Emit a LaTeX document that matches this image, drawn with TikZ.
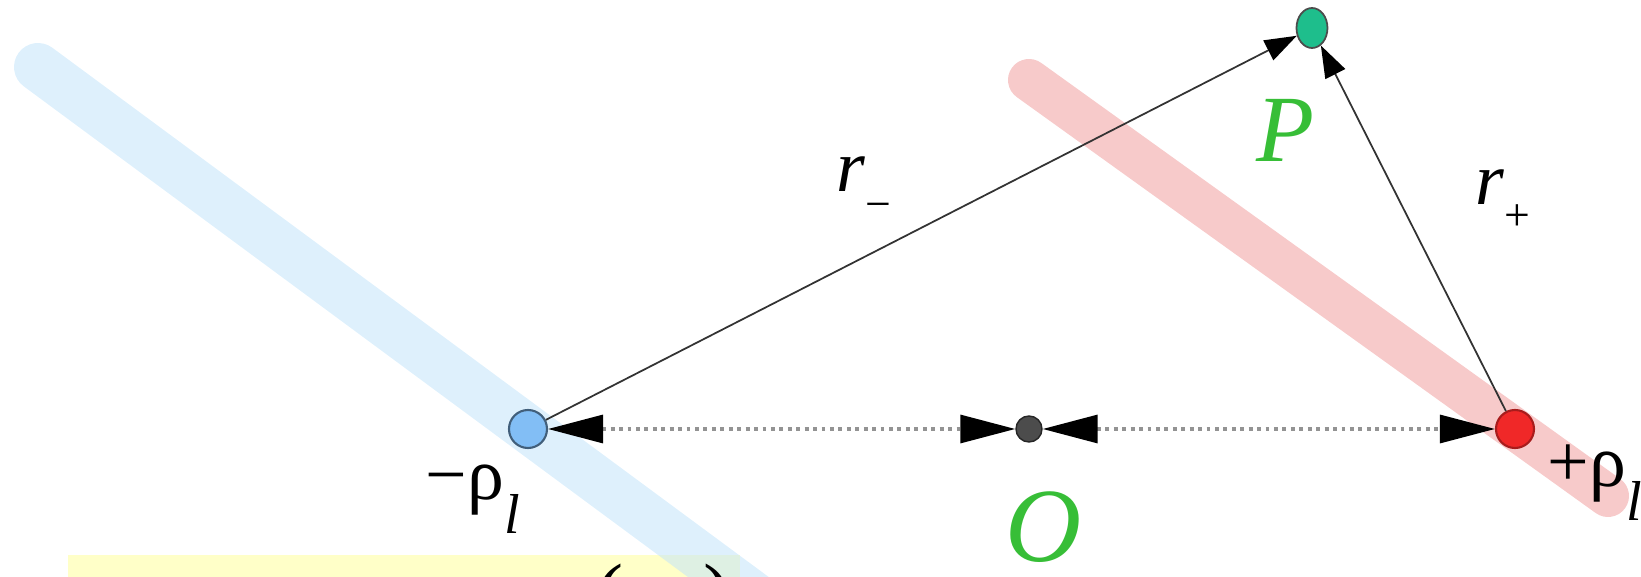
\documentclass[tikz,border=0pt]{standalone}
\usepackage{fontspec}
\setmainfont{Liberation Serif}
\usepackage{tikz}
\usetikzlibrary{positioning, arrows.meta, shapes.geometric}

\definecolor{bandblue}{RGB}{195,228,250}
\definecolor{bandred}{RGB}{247,202,202}
\definecolor{boxyellow}{RGB}{255,255,200}
\definecolor{labelgreen}{RGB}{55,190,55}
\definecolor{dotblue}{RGB}{130,190,245}
\definecolor{dotred}{RGB}{240,40,40}
\definecolor{dotteal}{RGB}{30,190,140}

\begin{document}
\begin{tikzpicture}[
    charge/.style={
        circle,
        minimum size=3.8mm,
        inner sep=0pt,
        line width=0.6pt,
    },
    band/.style={
        line width=4.8mm,
        line cap=round,
    },
    sep line/.style={
        draw=gray!85,
        line width=0.9pt,
        dash pattern=on 1.1pt off 1.3pt,
        {Triangle[length=5.5mm, width=2.8mm, black]}-{Triangle[length=5.5mm, width=2.8mm, black]},
    },
    ray/.style={
        draw=black!80,
        line width=0.5pt,
        -{Triangle[length=3.2mm, width=2.2mm, black]},
    },
    sym/.style={
        font=\fontsize{21}{25}\selectfont,
        inner sep=0pt,
        anchor=base west,
    },
    point label/.style={
        text=labelgreen,
        inner sep=0pt,
        anchor=base west,
    },
]

\useasboundingbox (0,0) rectangle (16.41,5.77);

% --- Yellow box (cut off at the bottom) ---
\fill[boxyellow] (0.68,-0.5) rectangle (7.40,0.22);

% --- Line charges seen edge-on ---
\draw[band, draw=bandblue, opacity=0.55] (0.38,5.10) -- (7.96,-0.5);
\draw[band, line width=4.2mm, draw=bandred] (10.29,4.97) -- (16.08,0.81);

\node[anchor=north west, inner sep=0pt, font=\fontsize{24}{26}\selectfont]
    (box-txt) at (5.95,0.14) {(\hspace{0.8cm})};

% --- Charges, origin and field point ---
\node[charge, fill=dotblue, draw=dotblue!50!black] (neg) at (5.28,1.48) {};
\node[charge, fill=dotred, draw=dotred!70!black] (pos) at (15.15,1.48) {};
\node[circle, minimum size=2.6mm, inner sep=0pt, fill=black!70, draw=black!85] (orig) at (10.29,1.48) {};
\node[ellipse, minimum width=3.1mm, minimum height=4mm, inner sep=0pt,
    fill=dotteal, draw=black!70, line width=0.5pt] (pt) at (13.12,5.49) {};

% --- Distances ---
\draw[sep line] (neg) -- (orig);
\draw[sep line] (orig) -- (pos);
\draw[ray] (neg) -- (pt);
\draw[ray] (pos) -- (pt);

% --- Labels ---
\node[sym] (rm) at (8.36,3.85)
    {\textit{r}\raisebox{-7.7pt}{\fontsize{13}{15}\selectfont −}};
\node[sym] (rp) at (14.75,3.72)
    {\textit{r}\raisebox{-7.2pt}{\fontsize{13}{15}\selectfont +}};

\node[sym] (neg-lbl) at ([shift={(-1.03,-0.71)}]neg.center)
    {−ρ\raisebox{-9.5pt}{\fontsize{16}{18}\selectfont\textit{l}}};
\node[sym] (pos-lbl) at ([shift={(0.32,-0.58)}]pos.center)
    {+ρ\raisebox{-9.5pt}{\fontsize{16}{18}\selectfont\textit{l}}};

\node[point label, font=\fontsize{27}{30}\selectfont\itshape] (pt-lbl)
    at ([shift={(-0.56,-1.34)}]pt.center) {P};
\node[point label, font=\fontsize{30}{33}\selectfont\itshape] (orig-lbl)
    at ([shift={(-0.24,-1.33)}]orig.center) {O};

\end{tikzpicture}
\end{document}
